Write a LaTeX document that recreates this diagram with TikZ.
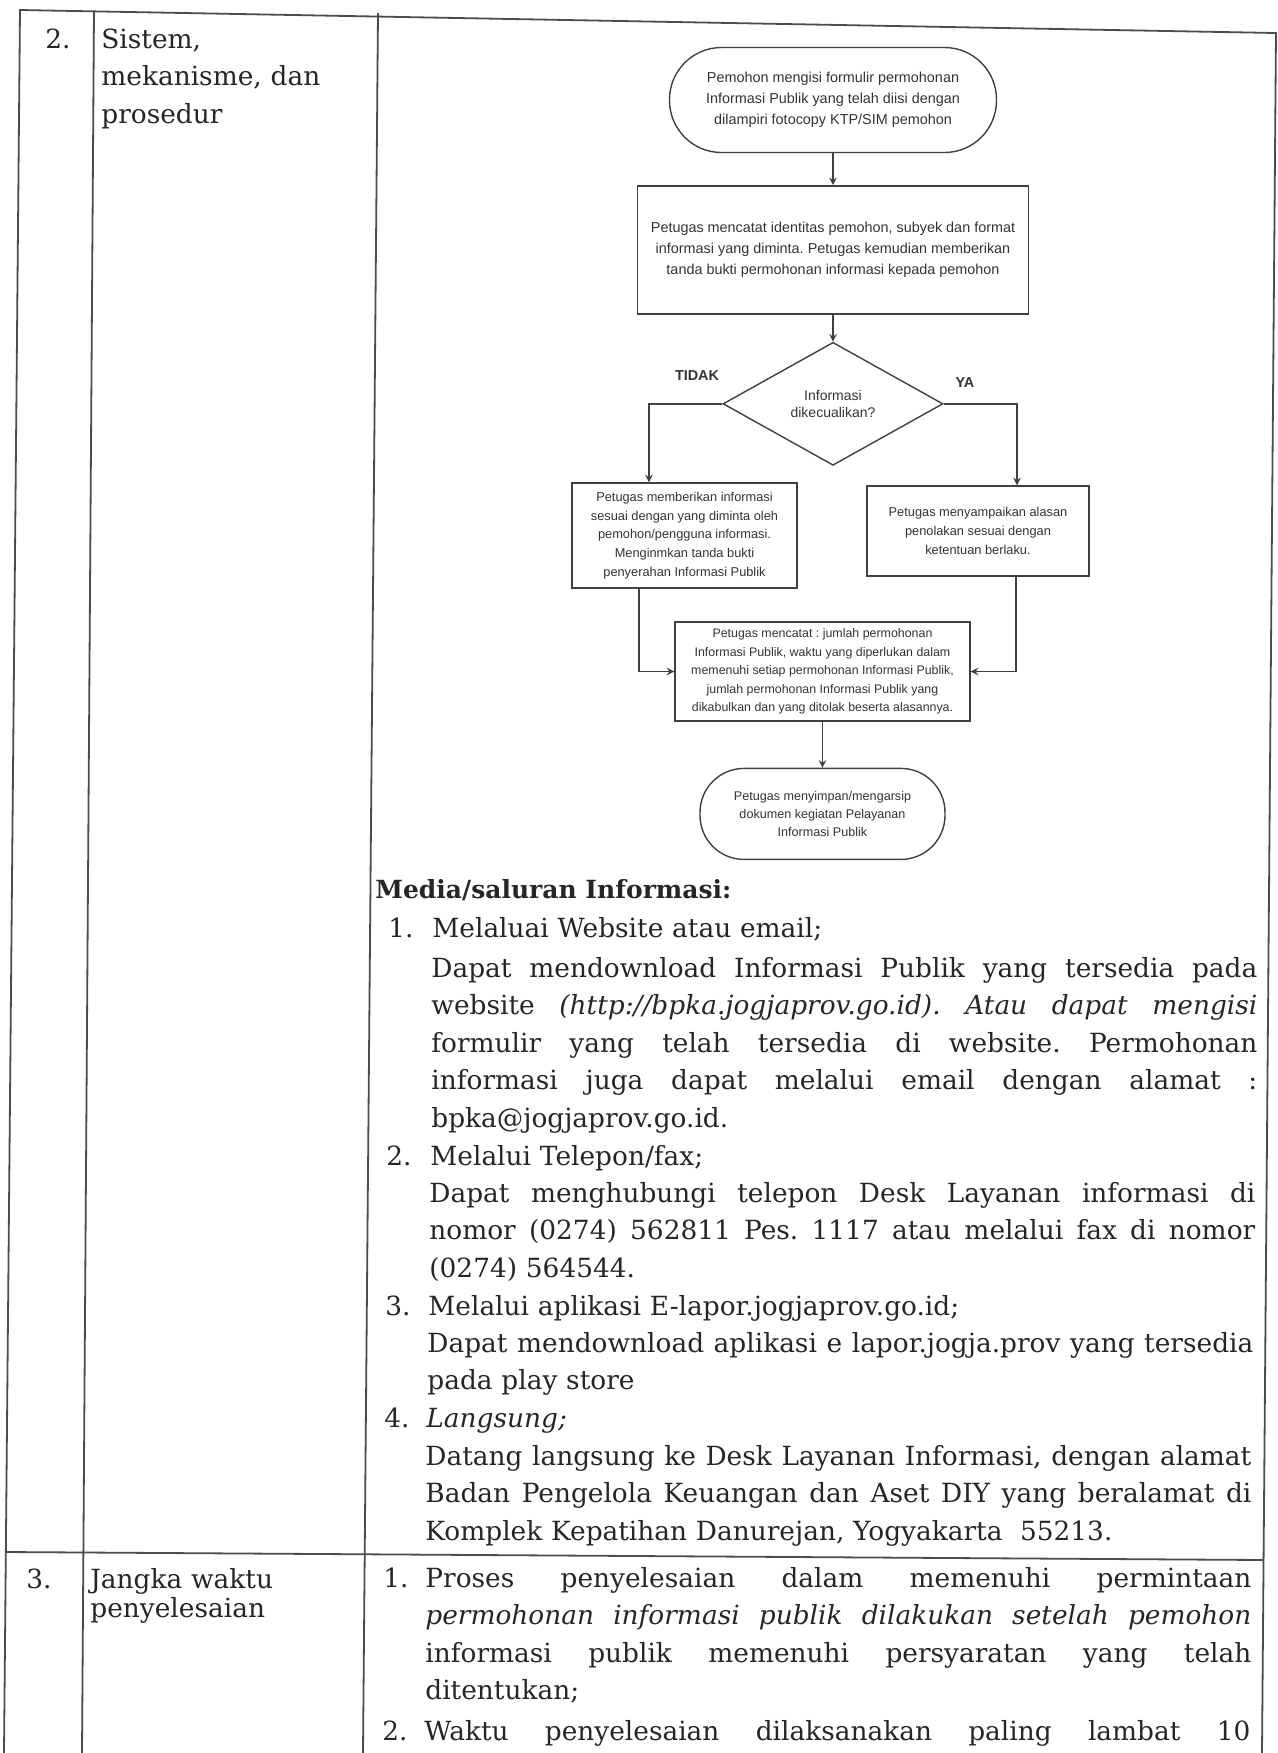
\documentclass[tikz,border=0pt]{standalone}
\usepackage{fontspec}
\setmainfont{DejaVu Serif}
\newfontfamily\flowfont{Liberation Sans}
\usetikzlibrary{positioning,shapes.geometric,calc}
\frenchspacing
% one justified line of a paragraph
\newcommand{\jl}[1]{\makebox[\hsize][s]{\spaceskip=0pt\xspaceskip=0pt #1}}
\tikzset{
    >=stealth,
    terminal/.style={
        rectangle,
        draw=black!75, line width=0.7pt,
        align=center,
        inner sep=0pt,
        text=black!80,
        font=\flowfont\fontsize{7.2}{10.4}\selectfont
    },
    process/.style={
        rectangle,
        draw=black!75, line width=0.7pt,
        align=center,
        inner sep=0pt,
        text=black!80,
        font=\flowfont\fontsize{7.2}{10.6}\selectfont
    },
    small/.style={font=\flowfont\fontsize{6.4}{9.4}\selectfont},
    decision/.style={
        diamond,
        draw=black!75, line width=0.7pt,
        minimum width=110pt, minimum height=61.5pt,
        inner sep=0pt,
        align=center,
        text=black!80,
        font=\flowfont\fontsize{7}{8.4}\selectfont
    },
    answer/.style={font=\flowfont\bfseries\fontsize{7.2}{8}\selectfont, text=black!80, inner sep=0pt},
    line/.style={draw=black!75, line width=0.7pt, ->},
    frame/.style={draw=black!70, line width=0.9pt},
    body/.style={
        anchor=base west,
        inner sep=0pt,
        text width=413pt,
        align=left,
        font=\fontsize{13.2}{18.75}\selectfont\frenchspacing
    },
    numeral/.style={anchor=base west, inner sep=0pt, font=\fontsize{13.2}{18.75}\selectfont},
    heading/.style={anchor=base west, inner sep=0pt, font=\bfseries\fontsize{12.5}{15}\selectfont}
}

\begin{document}
\begin{tikzpicture}[x=0.5pt, y=-0.5pt, every node/.style={text=black!85}]
\useasboundingbox (0,0) rectangle (1278,1753);

% table frame (the scan is a little skewed)
\coordinate (tl) at (20,10);
\coordinate (tr) at (1276,33);
\coordinate (bl) at (4,1753);
\coordinate (br) at (1262,1753);
\coordinate (c1t) at (94,11);
\coordinate (c1b) at (82,1753);
\coordinate (c2t) at (378,13);
\coordinate (c2b) at (363,1753);
\coordinate (rl) at (6,1552);
\coordinate (rr) at (1264,1560);
\draw[frame] (bl) -- (tl) -- (tr) -- (br);
\draw[frame] (c1t) -- (c1b);
\draw[frame] (c2t) -- (c2b);
\draw[frame] (rl) -- (rr);

% left columns
\node[numeral] (no2) at (45,48) {2.};
\node[body, text width=138pt] (topic2) at (101,48) {Sistem,\\mekanisme, dan\\prosedur};
\node[numeral] (no3) at (26,1588) {3.};
\node[body, text width=138pt, font=\fontsize{13.2}{14.5}\selectfont] (topic3) at (90,1588) {Jangka waktu\\penyelesaian};

% flowchart
\node[terminal, minimum width=163.5pt, minimum height=52.5pt, rounded corners=26pt] (start) at (833,100)
    {Pemohon mengisi formulir permohonan\\Informasi Publik yang telah diisi dengan\\dilampiri fotocopy KTP/SIM pemohon};
\node[process, minimum width=195.5pt, minimum height=64pt, below=16pt of start] (check)
    {Petugas mencatat identitas pemohon, subyek dan format\\informasi yang diminta. Petugas kemudian memberikan\\tanda bukti permohonan informasi kepada pemohon};
\node[decision, below=13.5pt of check] (dec) {Informasi\\dikecualikan?};
\node[answer] (tidak) at (697,376) {TIDAK};
\node[answer] (ya) at (965,383) {YA};
\node[process, small, minimum width=112.5pt, minimum height=52.5pt] (give) at (684.5,535.5)
    {Petugas memberikan informasi\\sesuai dengan yang diminta oleh\\pemohon/pengguna informasi.\\Menginmkan tanda bukti\\penyerahan Informasi Publik};
\node[process, small, minimum width=111pt, minimum height=45pt] (refuse) at (978,531)
    {Petugas menyampaikan alasan\\penolakan sesuai dengan\\ketentuan berlaku.};
\node[process, font=\flowfont\fontsize{6.2}{9.2}\selectfont, minimum width=147.5pt, minimum height=49.5pt] (record) at (822.5,671.5)
    {Petugas mencatat : jumlah permohonan\\Informasi Publik, waktu yang diperlukan dalam\\memenuhi setiap permohonan Informasi Publik,\\jumlah permohonan Informasi Publik yang\\dikabulkan dan yang ditolak beserta alasannya.};
\node[terminal, font=\flowfont\fontsize{6.3}{9.2}\selectfont, minimum width=122.5pt, minimum height=45.5pt, rounded corners=22pt, below=23pt of record] (archive)
    {Petugas menyimpan/mengarsip\\dokumen kegiatan Pelayanan\\Informasi Publik};

\draw[line] (start) -- (check);
\draw[line] (check) -- (dec);
\draw[line] (dec.west) -| ([xshift=-17.75pt]give.north);
\draw[line] (dec.east) -| ([xshift=19.5pt]refuse.north);
\draw[line] ([xshift=-22.75pt]give.south) |- (record.west);
\draw[line] ([xshift=19pt]refuse.south) |- (record.east);
\draw[line] (record) -- (archive);

% media
\node[heading] (media) at (375,898) {Media/saluran Informasi:};
\node[numeral] (m1) at (388,937) {1.};
\node[body] (m1t) at (432,937) {Melaluai Website atau email;};
\node[body] (m1p) at (431,977)
    {\jl{Dapat mendownload Informasi Publik yang tersedia pada}\\
     \jl{website \textit{(http://bpka.jogjaprov.go.id). Atau dapat mengisi}}\\
     \jl{formulir yang telah tersedia di website. Permohonan}\\
     \jl{informasi juga dapat melalui email dengan alamat :}\\
     bpka@jogjaprov.go.id.};
\node[numeral] (m2) at (386,1165) {2.};
\node[body] (m2t) at (430,1165) {Melalui Telepon/fax;};
\node[body] (m2p) at (429,1202)
    {\jl{Dapat menghubungi telepon Desk Layanan informasi di}\\
     \jl{nomor (0274) 562811 Pes. 1117 atau melalui fax di nomor}\\
     (0274) 564544.};
\node[numeral] (m3) at (385,1315) {3.};
\node[body] (m3t) at (428,1315) {Melalui aplikasi E-lapor.jogjaprov.go.id;};
\node[body] (m3p) at (427,1352)
    {\jl{Dapat mendownload aplikasi e lapor.jogja.prov yang tersedia}\\
     pada play store};
\node[numeral] (m4) at (384,1427) {4.};
\node[body] (m4t) at (426,1427) {\textit{Langsung;}};
\node[body] (m4p) at (425,1465)
    {\jl{Datang langsung ke Desk Layanan Informasi, dengan alamat}\\
     \jl{Badan Pengelola Keuangan dan Aset DIY yang beralamat di}\\
     Komplek Kepatihan Danurejan, Yogyakarta~~55213.};

% jangka waktu
\node[numeral] (j1) at (383,1587) {1.};
\node[body] (j1p) at (425,1587)
    {\jl{Proses penyelesaian dalam memenuhi permintaan}\\
     \jl{\textit{permohonan informasi publik dilakukan setelah pemohon}}\\
     \jl{informasi publik memenuhi persyaratan yang telah}\\
     ditentukan;};
\node[numeral] (j2) at (382,1740) {2.};
\node[body] (j2p) at (424,1740)
    {\jl{Waktu penyelesaian dilaksanakan paling lambat 10}};
\end{tikzpicture}
\end{document}
